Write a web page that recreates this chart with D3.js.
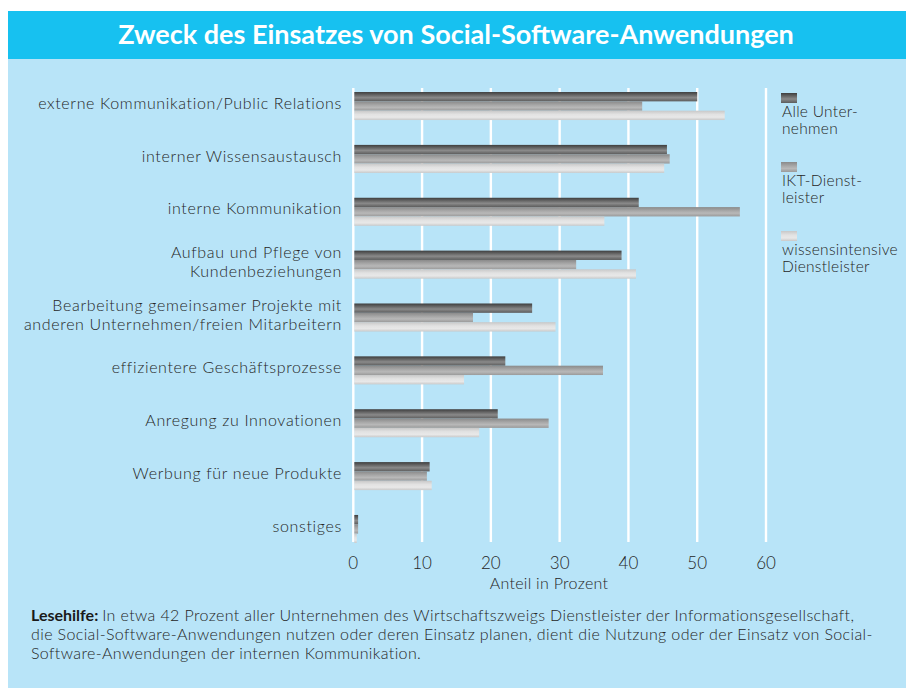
<!DOCTYPE html>
<html>
<head>
<meta charset="utf-8">
<script src="https://cdn.jsdelivr.net/npm/d3@7"></script>
<style>
  body { margin: 0; background: #fff; }
  svg text { font-family: Lato, "Open Sans", sans-serif; }
</style>
</head>
<body>
<div id="chart"></div>
<script>
// Chart data
const categories = [
  "externe Kommunikation/Public Relations",
  "interner Wissensaustausch",
  "interne Kommunikation",
  "Aufbau und Pflege von\nKundenbeziehungen",
  "Bearbeitung gemeinsamer Projekte mit\nanderen Unternehmen/freien Mitarbeitern",
  "effizientere Geschäftsprozesse",
  "Anregung zu Innovationen",
  "Werbung für neue Produkte",
  "sonstiges"
];
const seriesNames = ["Alle Unter-\nnehmen", "IKT-Dienst-\nleister", "wissensintensive\nDienstleister"];
const alleUnternehmen = [50, 45.6, 41.5, 39, 26, 22.1, 21, 11.1, 0.7];
const iktDienstleister = [42, 46, 56.2, 32.4, 17.4, 36.3, 28.4, 10.7, 0.7];
const wissensintensive = [54, 45.2, 36.5, 41.1, 29.4, 16.1, 18.3, 11.4, 0.5];
const xTicks = [0, 10, 20, 30, 40, 50, 60];

const W = 906, H = 691;
const x0 = 353.3, x1 = 766;
const yTop = 79.6, yBottom = 555.4;
const textColor = "#262626";

const svg = d3.select("#chart").append("svg")
  .attr("width", W)
  .attr("height", H);

// gradients for the striped bars
const defs = svg.append("defs");
const gradStops = [
  [["0%", "#3e3e3e"], ["35%", "#6a6a6a"], ["60%", "#8a8a8a"], ["100%", "#5c5c5c"]],
  [["0%", "#8a8a8a"], ["40%", "#a8a8a8"], ["65%", "#b8b8b8"], ["100%", "#9a9a9a"]],
  [["0%", "#c8c8c8"], ["40%", "#e2e2e2"], ["70%", "#e8e8e8"], ["100%", "#c9c9c9"]]
];
gradStops.forEach((stops, i) => {
  const g = defs.append("linearGradient")
    .attr("id", "grad" + i)
    .attr("x1", 0).attr("x2", 0).attr("y1", 0).attr("y2", 1);
  stops.forEach(s => g.append("stop").attr("offset", s[0]).attr("stop-color", s[1]));
});

// background panel and title band
svg.append("rect").attr("x", 8).attr("y", 59).attr("width", W - 8).attr("height", 629).attr("fill", "#b8e4f8");
svg.append("rect").attr("x", 8).attr("y", 11).attr("width", W - 8).attr("height", 48).attr("fill", "#17c1f0");

svg.append("text")
  .attr("x", 456)
  .attr("y", 44)
  .attr("text-anchor", "middle")
  .style("font-size", "27px")
  .style("font-weight", "bold")
  .style("fill", "#fff")
  .text("Zweck des Einsatzes von Social-Software-Anwendungen");

// scales
const xScale = d3.scaleLinear().domain([0, 60]).range([x0, x1]);
const yScale = d3.scaleBand()
  .domain(categories)
  .range([yTop, yBottom])
  .paddingInner(0.47)
  .paddingOuter(0.235);
const ySub = d3.scaleBand()
  .domain(d3.range(3))
  .range([0, yScale.bandwidth()]);

// grid lines
svg.append("g")
  .selectAll("line")
  .data(xTicks)
  .join("line")
  .attr("x1", d => xScale(d))
  .attr("x2", d => xScale(d))
  .attr("y1", 88)
  .attr("y2", 542)
  .attr("stroke", "#fff")
  .attr("stroke-width", 2.4);

// bars
const series = [alleUnternehmen, iktDienstleister, wissensintensive];
const rows = categories.map((c, i) => ({ cat: c, values: series.map(s => s[i]) }));

const groups = svg.append("g")
  .selectAll("g")
  .data(rows)
  .join("g")
  .attr("transform", d => `translate(0,${yScale(d.cat)})`);

groups.selectAll("rect")
  .data(d => d.values)
  .join("rect")
  .attr("x", xScale(0) + 1)
  .attr("y", (d, i) => ySub(i))
  .attr("width", d => xScale(d) - xScale(0) - 1)
  .attr("height", ySub.bandwidth())
  .attr("fill", (d, i) => `url(#grad${i})`);

// category labels
const labels = svg.append("g")
  .selectAll("text")
  .data(categories)
  .join("text")
  .attr("text-anchor", "end")
  .attr("x", 342)
  .style("font-size", "16px")
  .style("font-weight", 300)
  .style("letter-spacing", "0.65px")
  .style("fill", textColor);

labels.each(function(d) {
  const lines = d.split("\n");
  const cy = yScale(d) + yScale.bandwidth() / 2 - 3;
  const t = d3.select(this);
  lines.forEach((ln, j) => {
    t.append("tspan")
      .attr("x", 342)
      .attr("y", cy + (j - (lines.length - 1) / 2) * 19)
      .attr("dy", "0.35em")
      .text(ln);
  });
});

// x axis tick labels
svg.append("g")
  .selectAll("text")
  .data(xTicks)
  .join("text")
  .attr("x", d => xScale(d))
  .attr("y", 563)
  .attr("dy", "0.35em")
  .attr("text-anchor", "middle")
  .style("font-size", "17px")
  .style("font-weight", 300)
  .style("fill", textColor)
  .text(d => d);

svg.append("text")
  .attr("x", 549)
  .attr("y", 589)
  .attr("text-anchor", "middle")
  .style("font-size", "16px")
  .style("font-weight", 300)
  .style("letter-spacing", "0.3px")
  .style("fill", textColor)
  .text("Anteil in Prozent");

// legend
const legend = svg.append("g")
  .selectAll("g")
  .data(seriesNames)
  .join("g")
  .attr("transform", (d, i) => `translate(781,${93 + i * 69})`);

legend.append("rect")
  .attr("width", 16)
  .attr("height", 10)
  .attr("fill", (d, i) => `url(#grad${i})`);

legend.append("text")
  .style("font-size", "15.5px")
  .style("font-weight", 300)
  .style("letter-spacing", "0.3px")
  .style("fill", textColor)
  .each(function(d) {
    const t = d3.select(this);
    d.split("\n").forEach((ln, j) => {
      t.append("tspan").attr("x", 1).attr("y", 24 + j * 17).text(ln);
    });
  });

// reading help
const help = [
  [["Lesehilfe: ", true], ["In etwa 42 Prozent aller Unternehmen des Wirtschaftszweigs Dienstleister der Informationsgesellschaft,", false]],
  [["die Social-Software-Anwendungen nutzen oder deren Einsatz planen, dient die Nutzung oder der Einsatz von Social-", false]],
  [["Software-Anwendungen der internen Kommunikation.", false]]
];
const helpText = svg.append("text")
  .style("font-size", "16px")
  .style("font-weight", 300)
  .style("letter-spacing", "0.38px")
  .style("fill", textColor);
help.forEach((line, j) => {
  line.forEach((part, k) => {
    const ts = helpText.append("tspan").text(part[0]);
    if (k === 0) ts.attr("x", 31).attr("y", 621 + j * 19);
    if (part[1]) ts.style("font-weight", "bold").style("fill", "#1a1a1a").style("letter-spacing", "0px");
  });
});
</script>
</body>
</html>
